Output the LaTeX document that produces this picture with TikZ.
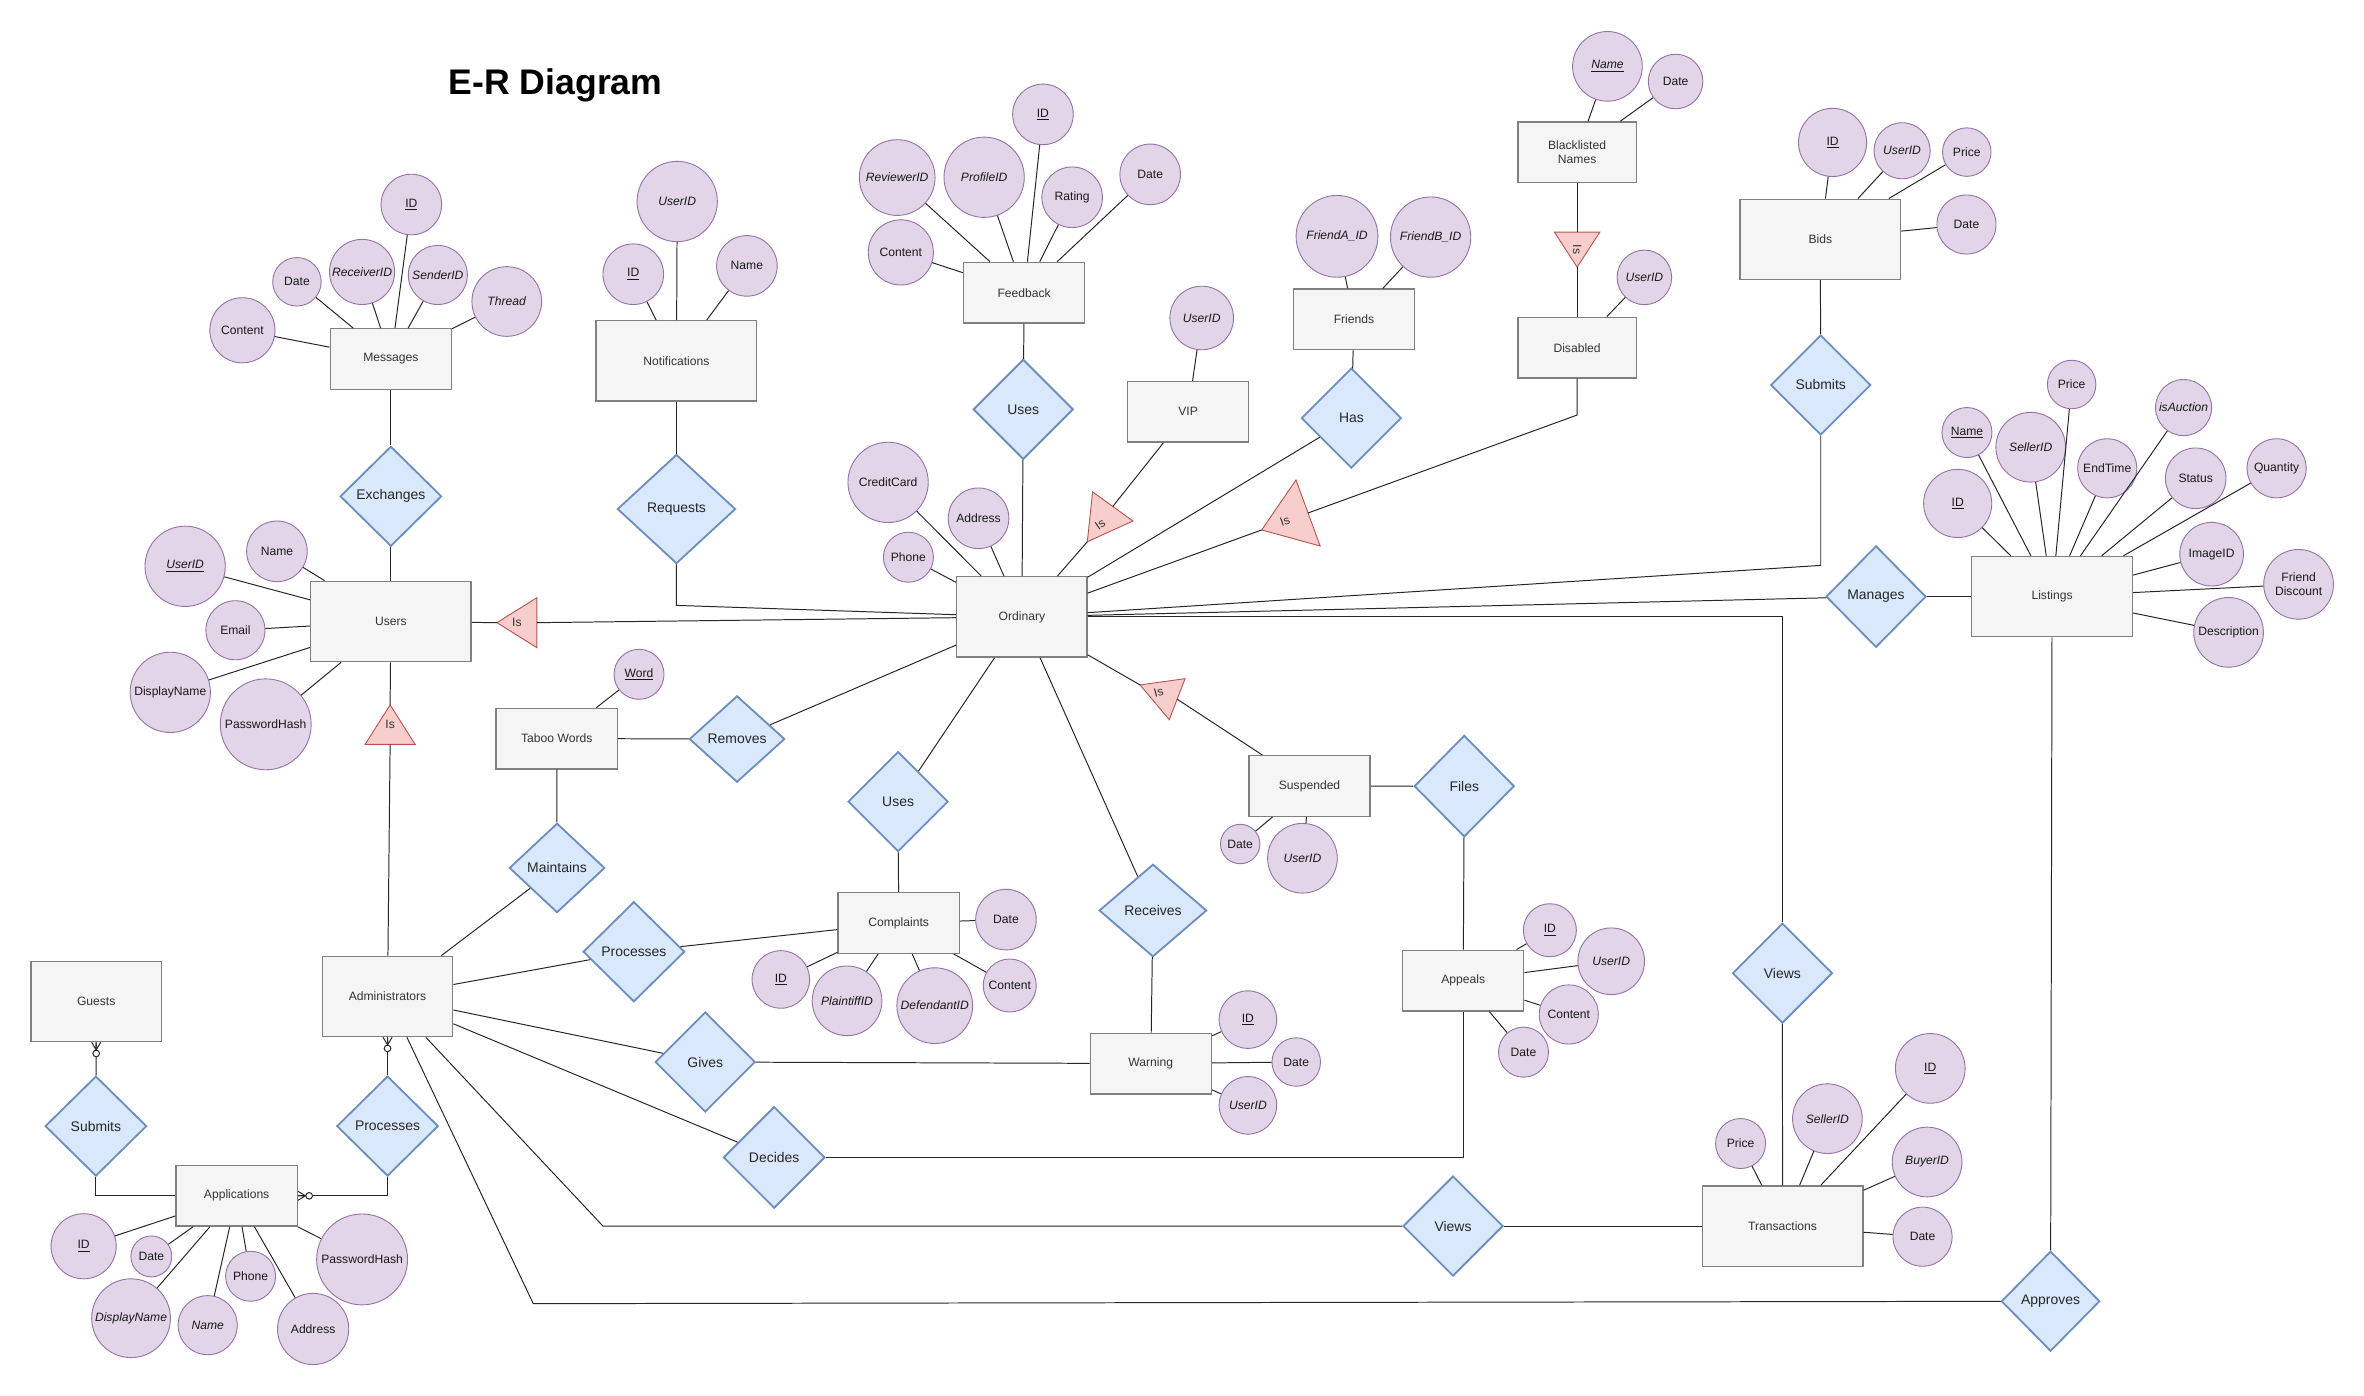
\documentclass[tikz,border=0pt]{standalone}
\usepackage{fontspec}
\setmainfont{Liberation Sans}
\usepackage{xcolor}
\usetikzlibrary{shapes.geometric,calc}

\definecolor{entfill}{HTML}{F5F5F5}
\definecolor{entdraw}{HTML}{808080}
\definecolor{enttext}{HTML}{333333}
\definecolor{attfill}{HTML}{E1D5E7}
\definecolor{attdraw}{HTML}{9673A6}
\definecolor{relfill}{HTML}{DAE8FC}
\definecolor{reldraw}{HTML}{6C8EBF}
\definecolor{isafill}{HTML}{F8CECC}
\definecolor{isadraw}{HTML}{B85450}

% name, apex, base middle, half base, label rotation
\newcommand{\isatri}[5]{%
  \coordinate (#1-apex) at #2;
  \coordinate (#1-base) at #3;
  \draw[isa] (#1-apex) -- ($(#1-base)!#4pt!90:(#1-apex)$) -- ($(#1-base)!#4pt!-90:(#1-apex)$) -- cycle;
  \node[isalabel, rotate=#5] (#1) at ($(#1-apex)!0.5!(#1-base)$) {Is};
}

\begin{document}
\begin{tikzpicture}[
    x=1pt, y=-1pt,
    entity/.style={rectangle, draw=entdraw, fill=entfill, line width=0.9pt, minimum width=80pt, minimum height=40pt, inner sep=1pt, align=center, font=\fontsize{8}{9.6}\selectfont, text=enttext},
    entitybig/.style={entity, minimum width=106pt, minimum height=53pt},
    entitymid/.style={entity, minimum width=86pt, minimum height=53pt},
    relation/.style={diamond, draw=reldraw, fill=relfill, line width=1.2pt, inner sep=0pt, minimum width=66pt, minimum height=66pt, font=\fontsize{9.2}{11}\selectfont, text=black!85},
    attribute/.style={circle, draw=attdraw, fill=attfill, line width=0.6pt, inner sep=0pt, minimum size=#1, align=center, font=\fontsize{8}{9.6}\selectfont, text=black!90},
    attribute/.default=40pt,
    isa/.style={draw=isadraw, fill=isafill, line width=0.6pt},
    isalabel/.style={inner sep=0pt, font=\fontsize{8}{9.6}\selectfont, text=enttext},
    link/.style={draw=black!85, line width=0.65pt},
    title/.style={font=\fontsize{23.5}{28}\selectfont\bfseries},
    zeromany/.pic={
        \draw[link] (0,-3) -- (5,0) -- (0,3) (0,0) -- (5,0);
        \draw[link, fill=white] (7.4,0) circle (2.2);
    }
]

\fill[white] (0,0) rectangle (1560.4,920.8);
\useasboundingbox (0,0) rectangle (1560.4,920.8);

\node[title, anchor=base] (title) at (366.7,62.7) {E-R Diagram};

% Entities
\node[entity] (msg) at (258,237) {Messages};
\node[entitybig] (notif) at (446.5,238.2) {Notifications};
\node[entity] (fb) at (676,193.2) {Feedback};
\node[entity] (vip) at (784.2,271.8) {VIP};
\node[entity] (friends) at (893.7,210.8) {Friends};
\node[entity, minimum width=78pt] (black) at (1041,100.5) {Blacklisted\\Names};
\node[entity, minimum width=78pt] (disabled) at (1041,229.5) {Disabled};
\node[entitybig] (bids) at (1201.5,158) {Bids};
\node[entitybig] (users) at (258,410.2) {Users};
\node[entitymid] (ord) at (674.5,407.2) {Ordinary};
\node[entitybig] (list) at (1354.5,393.8) {Listings};
\node[entity] (taboo) at (367.5,487.5) {Taboo Words};
\node[entity] (susp) at (864.4,518.8) {Suspended};
\node[entity] (compl) at (593.2,609.2) {Complaints};
\node[entity] (warn) at (759.6,702) {Warning};
\node[entity] (appeal) at (965.8,647.2) {Appeals};
\node[entitymid] (guests) at (63.5,661) {Guests};
\node[entitymid] (admin) at (255.8,657.7) {Administrators};
\node[entity] (apps) at (156.2,789.3) {Applications};
\node[entitybig] (trans) at (1176.6,809.3) {Transactions};

% Relationships
\node[relation, minimum width=67pt] (exch) at (258,327.6) {Exchanges};
\node[relation, minimum width=78pt, minimum height=72pt] (req) at (446.5,336) {Requests};
\node[relation] (uses1) at (675.4,270.2) {Uses};
\node[relation] (has) at (892,276) {Has};
\node[relation] (sub1) at (1201.8,254.1) {Submits};
\node[relation, minimum height=67pt] (man) at (1238.3,393.8) {Manages};
\node[relation, minimum width=63pt, minimum height=57pt] (rem) at (486.5,487.8) {Removes};
\node[relation, minimum width=63pt, minimum height=59pt] (maint) at (367.7,572.9) {Maintains};
\node[relation] (uses2) at (592.8,529.1) {Uses};
\node[relation, minimum width=71pt, minimum height=61pt] (rec) at (761,601) {Receives};
\node[relation, minimum height=67pt] (files) at (966.5,518.9) {Files};
\node[relation, minimum width=67pt] (proc1) at (418.4,628.2) {Processes};
\node[relation] (gives) at (465.5,701) {Gives};
\node[relation, minimum width=67pt, minimum height=67pt] (dec) at (511,764) {Decides};
\node[relation] (views1) at (1176.5,642.4) {Views};
\node[relation] (views2) at (959.1,809.3) {Views};
\node[relation, minimum width=65pt] (appr) at (1353.5,858.9) {Approves};
\node[relation, minimum width=67pt] (sub2) at (63.3,743.3) {Submits};
\node[relation, minimum width=67pt] (proc2) at (255.8,743.3) {Processes};

% Attributes of Messages
\node[attribute=40pt] (mID) at (271.5,135) {\underline{ID}};
\node[attribute=43pt] (mRecv) at (239,179.5) {\textit{ReceiverID}};
\node[attribute=39pt] (mSend) at (289,181.5) {\textit{SenderID}};
\node[attribute=32pt] (mDate) at (196,186) {Date};
\node[attribute=46pt] (mThread) at (334.5,199) {\textit{Thread}};
\node[attribute=43pt] (mContent) at (160,218) {Content};

% Attributes of Notifications
\node[attribute=53pt] (nUser) at (447,133) {\textit{UserID}};
\node[attribute=40pt] (nID) at (418,181) {\underline{ID}};
\node[attribute=40pt] (nName) at (493,175.5) {Name};

% Attributes of Feedback
\node[attribute=40pt] (fID) at (688.4,75.5) {\underline{ID}};
\node[attribute=50pt] (fRev) at (592.2,117.2) {\textit{ReviewerID}};
\node[attribute=53pt] (fProf) at (649.6,117) {\textit{ProfileID}};
\node[attribute=40pt] (fRating) at (707.7,130.2) {Rating};
\node[attribute=40pt] (fDate) at (759.2,115.1) {Date};
\node[attribute=43pt] (fContent) at (594.6,166.6) {Content};

% Attributes of Friends, VIP, Blacklisted Names, Disabled
\node[attribute=54pt] (frA) at (882.5,156) {\textit{FriendA\_ID}};
\node[attribute=53pt] (frB) at (944.3,156.5) {\textit{FriendB\_ID}};
\node[attribute=42pt] (vUser) at (793.2,209.9) {\textit{UserID}};
\node[attribute=46pt] (blName) at (1061,43.8) {\textit{\underline{Name}}};
\node[attribute=36pt] (blDate) at (1106,53.8) {Date};
\node[attribute=36pt] (dUser) at (1085.4,183.1) {\textit{UserID}};

% Attributes of Bids
\node[attribute=45pt] (bID) at (1209.6,94) {\underline{ID}};
\node[attribute=37pt] (bUser) at (1255.5,99.5) {\textit{UserID}};
\node[attribute=32pt] (bPrice) at (1298.2,100.4) {Price};
\node[attribute=39pt] (bDate) at (1298,148.2) {Date};

% Attributes of Listings
\node[attribute=32pt] (lPrice) at (1367.4,253.8) {Price};
\node[attribute=37pt] (lAuction) at (1441.3,269) {\textit{isAuction}};
\node[attribute=33pt] (lName) at (1298.3,285.5) {\underline{Name}};
\node[attribute=46pt] (lSeller) at (1340.4,295.2) {\textit{SellerID}};
\node[attribute=39pt] (lEnd) at (1390.9,309.1) {EndTime};
\node[attribute=40pt] (lStatus) at (1449.3,315.7) {Status};
\node[attribute=39pt] (lQty) at (1502.7,309.1) {Quantity};
\node[attribute=45pt] (lID) at (1292.2,332.3) {\underline{ID}};
\node[attribute=42pt] (lImage) at (1459.8,365.8) {ImageID};
\node[attribute=46pt] (lDisc) at (1517.2,385.7) {Friend\\Discount};
\node[attribute=46pt] (lDesc) at (1471,417.4) {Description};

% Attributes of Users, Taboo Words, Ordinary
\node[attribute=53pt] (uID) at (122.2,373.8) {\textit{\underline{UserID}}};
\node[attribute=40pt] (uName) at (182.8,363.9) {Name};
\node[attribute=39pt] (uEmail) at (155.4,416) {Email};
\node[attribute=53pt] (uDisp) at (112.4,457) {DisplayName};
\node[attribute=60pt] (uPass) at (175.4,478.1) {PasswordHash};
\node[attribute=33pt] (tWord) at (421.8,445.1) {\underline{Word}};
\node[attribute=53pt] (oCard) at (586.2,318.4) {CreditCard};
\node[attribute=40pt] (oAddr) at (645.9,342.1) {Address};
\node[attribute=33pt] (oPhone) at (599.6,367.8) {Phone};

% Attributes of Suspended, Complaints, Warning, Appeals
\node[attribute=26pt] (sDate) at (818.6,557.1) {Date};
\node[attribute=46pt] (sUser) at (859.7,566.5) {\textit{UserID}};
\node[attribute=40pt] (cDate) at (664,607) {Date};
\node[attribute=38pt] (cID) at (515.4,646.5) {\underline{ID}};
\node[attribute=46pt] (cPlain) at (559.1,660.6) {\textit{PlaintiffID}};
\node[attribute=50pt] (cDef) at (617,663.8) {\textit{DefendantID}};
\node[attribute=35pt] (cContent) at (666.5,650.5) {Content};
\node[attribute=38pt] (wID) at (823.7,673) {\underline{ID}};
\node[attribute=32pt] (wDate) at (855.6,701) {Date};
\node[attribute=38pt] (wUser) at (823.7,729.6) {\textit{UserID}};
\node[attribute=35pt] (aID) at (1023,614) {\underline{ID}};
\node[attribute=44pt] (aUser) at (1063.5,634.5) {\textit{UserID}};
\node[attribute=39pt] (aContent) at (1035.5,669.6) {Content};
\node[attribute=33pt] (aDate) at (1005.6,694.5) {Date};

% Attributes of Transactions
\node[attribute=33pt] (trPrice) at (1148.9,754.8) {Price};
\node[attribute=46pt] (trSeller) at (1206.2,738.4) {\textit{SellerID}};
\node[attribute=46pt] (trID) at (1274.1,705.2) {\underline{ID}};
\node[attribute=46pt] (trBuyer) at (1272,767) {\textit{BuyerID}};
\node[attribute=39pt] (trDate) at (1269,816.3) {Date};

% Attributes of Applications
\node[attribute=43pt] (apID) at (55.2,822.6) {\underline{ID}};
\node[attribute=27pt] (apDate) at (99.9,829.3) {Date};
\node[attribute=52pt] (apDisp) at (86.5,870.1) {\textit{DisplayName}};
\node[attribute=39pt] (apName) at (137.1,874.7) {\textit{Name}};
\node[attribute=33pt] (apPhone) at (165.4,842.4) {Phone};
\node[attribute=47pt] (apAddr) at (206.7,877.2) {Address};
\node[attribute=60pt] (apPass) at (239,831.3) {PasswordHash};

% Is triangles
\isatri{isU}{(328,411)}{(354.4,411)}{16.5}{0}
\isatri{isA}{(257.5,465.3)}{(257.5,491.3)}{16.5}{0}
\isatri{isB}{(1041,176.3)}{(1041,153.2)}{15}{-90}
\isatri{isV}{(717.7,357.6)}{(734.5,334.3)}{16.4}{35}
\isatri{isD}{(832.8,349.8)}{(863.4,338.6)}{23.2}{20}
\isatri{isS}{(752.5,452.1)}{(777,461.5)}{14.5}{15}

% Attribute lines
\foreach \a in {mID,mRecv,mSend,mDate,mThread,mContent} \draw[link] (\a) -- (msg);
\foreach \a in {nUser,nID,nName} \draw[link] (\a) -- (notif);
\foreach \a in {fID,fRev,fProf,fRating,fDate,fContent} \draw[link] (\a) -- (fb);
\foreach \a in {frA,frB} \draw[link] (\a) -- (friends);
\draw[link] (vUser) -- (vip);
\foreach \a in {blName,blDate} \draw[link] (\a) -- (black);
\draw[link] (dUser) -- (disabled);
\foreach \a in {bID,bUser,bPrice,bDate} \draw[link] (\a) -- (bids);
\foreach \a in {lPrice,lAuction,lName,lSeller,lEnd,lStatus,lQty,lID,lImage,lDisc,lDesc} \draw[link] (\a) -- (list);
\foreach \a in {uID,uName,uEmail,uDisp,uPass} \draw[link] (\a) -- (users);
\draw[link] (tWord) -- (taboo);
\foreach \a in {oCard,oAddr,oPhone} \draw[link] (\a) -- (ord);
\foreach \a in {sDate,sUser} \draw[link] (\a) -- (susp);
\foreach \a in {cDate,cID,cPlain,cDef,cContent} \draw[link] (\a) -- (compl);
\foreach \a in {wID,wDate,wUser} \draw[link] (\a) -- (warn);
\foreach \a in {aID,aUser,aContent,aDate} \draw[link] (\a) -- (appeal);
\foreach \a in {trPrice,trSeller,trID,trBuyer,trDate} \draw[link] (\a) -- (trans);
\foreach \a in {apID,apDate,apDisp,apName,apPhone,apAddr,apPass} \draw[link] (\a) -- (apps);

% Relationship lines
\draw[link] (msg) -- (exch);
\draw[link] (exch) -- (users);
\draw[link] (notif) -- (req);
\draw[link] (req) -- ($(req.south)+(0,27)$) -- (ord);
\draw[link] (users) -- (isU-apex);
\draw[link] (isU-base) -- (ord);
\draw[link] (users) -- (isA-apex);
\draw[link] (isA-base) -- (admin);
\draw[link] (fb) -- (uses1);
\draw[link] (uses1) -- (ord);
\draw[link] (vip) -- (isV-base);
\draw[link] (isV-apex) -- (ord);
\draw[link] (friends) -- (has);
\draw[link] (has) -- (ord);
\draw[link] (black) -- (isB-base);
\draw[link] (isB-apex) -- (disabled);
\draw[link] (disabled) -- ($(disabled.south)+(0,24)$) -- (isD-base);
\draw[link] (isD-apex) -- (ord);
\draw[link] (bids) -- (sub1);
\draw[link] (sub1) -- ($(sub1.south)+(0,85.5)$) -- (ord);
\draw[link] (ord) -- (man);
\draw[link] (man) -- (list);
\draw[link] (ord) -| (views1);
\draw[link] (views1) -- (trans);
\draw[link] (list) -- (appr);
\coordinate (apprbend) at (352,860.5);
\draw[link] (appr) -- (apprbend) -- (admin);
\coordinate (viewsbend) at (398,809.3);
\draw[link] (admin) -- (viewsbend) -- (views2);
\draw[link] (views2) -- (trans);
\draw[link] (taboo) -- (maint);
\draw[link] (maint) -- (admin);
\draw[link] (taboo) -- (rem);
\draw[link] (rem) -- (ord);
\draw[link] (admin) -- (proc1);
\draw[link] (proc1) -- (compl);
\draw[link] (ord) -- (uses2);
\draw[link] (uses2) -- (compl);
\draw[link] (ord) -- (rec);
\draw[link] (rec) -- (warn);
\draw[link] (ord) -- (isS-apex);
\draw[link] (isS-base) -- (susp);
\draw[link] (susp) -- (files);
\draw[link] (files) -- (appeal);
\draw[link] (admin) -- (gives);
\draw[link] (gives) -- (warn);
\draw[link] (admin) -- (dec);
\draw[link] (dec) -| (appeal);
\draw[link] (guests) -- (sub2);
\draw[link] (sub2) |- (apps);
\draw[link] (admin) -- (proc2);
\draw[link] (proc2) |- (apps);

% Zero or many ends
\pic[rotate=-90] at (guests.south) {zeromany};
\pic[rotate=-90] at (admin.south) {zeromany};
\pic at (apps.east) {zeromany};

\end{tikzpicture}
\end{document}
